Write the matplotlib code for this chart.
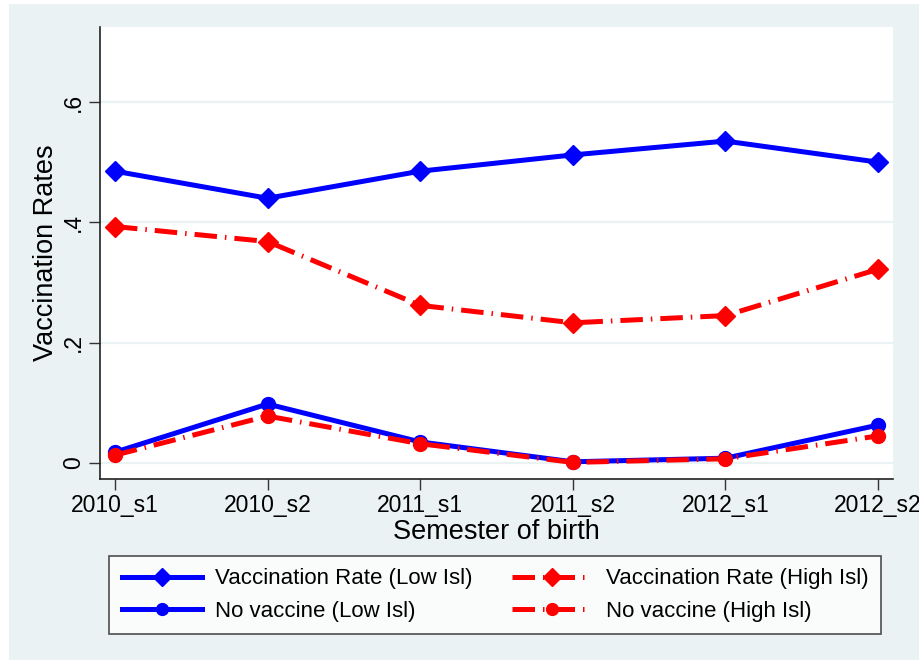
import numpy as np
import matplotlib
matplotlib.use("Agg")
import matplotlib.pyplot as plt
from matplotlib.patches import Rectangle

plt.rcParams['font.family'] = ['Liberation Sans', 'DejaVu Sans']

# --- data ---
semesters = ["2010_s1", "2010_s2", "2011_s1", "2011_s2", "2012_s1", "2012_s2"]
vacc_low = [0.485, 0.440, 0.485, 0.512, 0.535, 0.500]
vacc_high = [0.393, 0.368, 0.262, 0.233, 0.245, 0.322]
novac_low = [0.018, 0.098, 0.035, 0.002, 0.008, 0.063]
novac_high = [0.013, 0.078, 0.032, 0.001, 0.007, 0.045]
yticks = [0, 0.2, 0.4, 0.6]
ytick_labels = ["0", ".2", ".4", ".6"]

W, H = 919, 660
bg = "#EAF2F3"
blue = "#0000FF"
red = "#FF0000"

fig = plt.figure(figsize=(W / 100, H / 100), dpi=100, facecolor="white")
# light background (the original has a thin white strip left and top)
fig.patches.append(Rectangle((9 / W, 0), 1, 1 - 4 / H, transform=fig.transFigure,
                             facecolor=bg, edgecolor="none", zorder=-10))

ax = fig.add_axes([100 / W, (H - 479) / H, (893 - 100) / W, (479 - 27) / H])
ax.set_facecolor("white")

x = np.arange(len(semesters))
dashdot = (0, (4.5, 1.6, 0.3, 1.6))

ax.plot(x, vacc_low, color=blue, lw=3.6, marker="D", ms=10.5, label="Vaccination Rate (Low Isl)", zorder=4)
ax.plot(x, novac_low, color=blue, lw=3.6, marker="o", ms=10, label="No vaccine (Low Isl)", zorder=4)
ax.plot(x, vacc_high, color=red, lw=3.6, ls=dashdot, marker="D", ms=10.5, label="Vaccination Rate (High Isl)", zorder=5)
ax.plot(x, novac_high, color=red, lw=3.6, ls=dashdot, marker="o", ms=10, label="No vaccine (High Isl)", zorder=5)

ax.set_xlim(-0.098, 5.098)
ax.set_ylim(-0.0266, 0.7246)
ax.set_xticks(x)
ax.set_xticklabels(semesters, fontsize=16.5)
ax.set_yticks(yticks)
ax.set_yticklabels(ytick_labels, fontsize=16.5, rotation=90, va="center")
ax.tick_params(axis="both", length=8, width=1, color="#333333", pad=3)

for y in yticks:
    ax.axhline(y, color=bg, lw=1.6, zorder=1)

for s in ["top", "right"]:
    ax.spines[s].set_visible(False)
for s in ["left", "bottom"]:
    ax.spines[s].set_color("#222222")
    ax.spines[s].set_linewidth(1.2)

ax.set_xlabel("Semester of birth", fontsize=19.5, labelpad=1)
ax.set_ylabel("Vaccination Rates", fontsize=19.5, labelpad=2)

leg = fig.legend(loc="center", bbox_to_anchor=((105 + 885) / 2 / W, 1 - 595 / H),
                 ncol=2, fontsize=16, frameon=True, fancybox=False,
                 edgecolor="#222222", handlelength=3.6, handletextpad=0.6,
                 columnspacing=1.8, labelspacing=0.5, borderpad=0.55,
                 markerscale=0.85)
leg.get_frame().set_linewidth(1.2)
leg.get_frame().set_facecolor("white")

fig.savefig("out.png", dpi=100, facecolor=fig.get_facecolor())
